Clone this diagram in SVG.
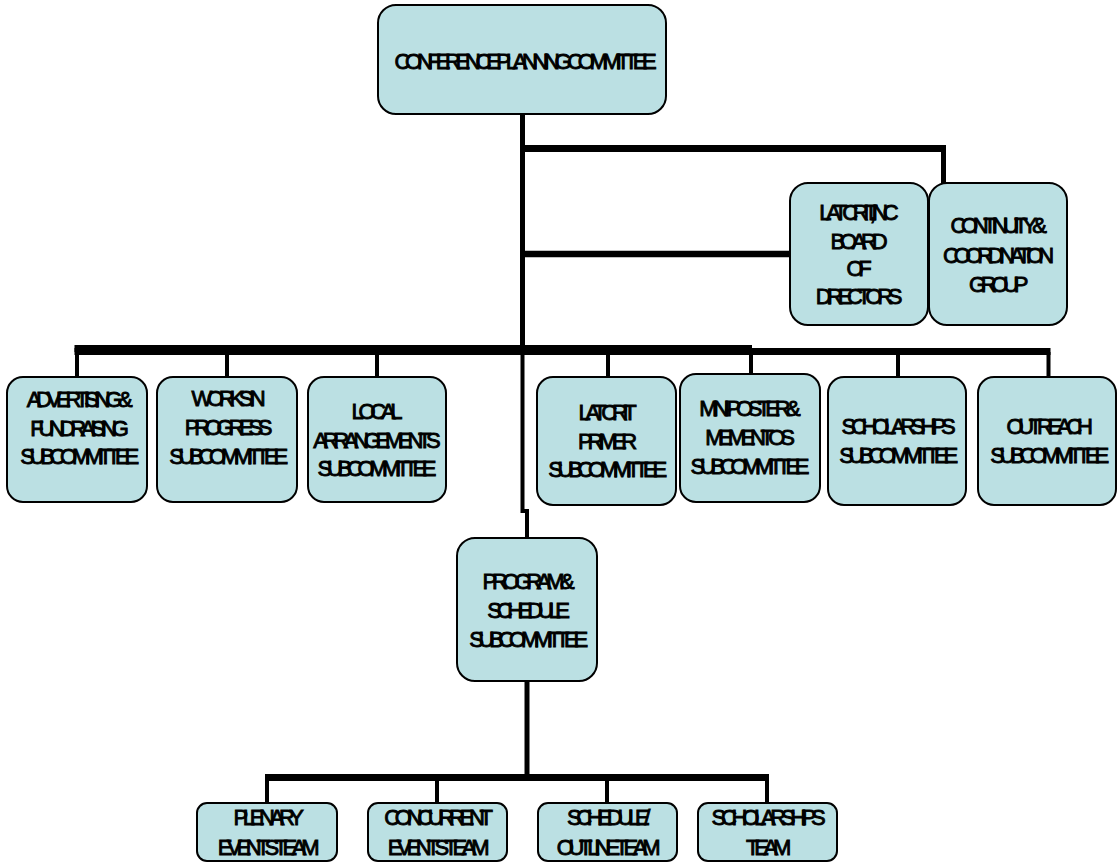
<svg xmlns="http://www.w3.org/2000/svg" width="1119" height="864" viewBox="0 0 1119 864">
<style>
.box{fill:#BBE0E3;stroke:#000;stroke-width:2}
.t{font-family:"Liberation Sans",Arial,sans-serif;font-size:22px;letter-spacing:-5.3px;text-anchor:middle;fill:#000;stroke:#000;stroke-width:0.9}
.c line,.c path{stroke:#000;fill:none;stroke-linecap:butt}
</style>
<rect width="1119" height="864" fill="#fff"/>
<g id="connectors" class="c">
<line x1="522.5" y1="114" x2="522.5" y2="352" stroke-width="5"/>
<line x1="520" y1="148.5" x2="946" y2="148.5" stroke-width="7"/>
<line x1="943.5" y1="145" x2="943.5" y2="183" stroke-width="5"/>
<line x1="520" y1="254" x2="791" y2="254" stroke-width="6.5"/>
<line x1="74.5" y1="351.5" x2="1050.5" y2="351.5" stroke-width="7"/>
<line x1="74.5" y1="348.5" x2="752" y2="348.5" stroke-width="7"/>
<line x1="77" y1="352" x2="77" y2="377" stroke-width="4"/>
<line x1="227" y1="352" x2="227" y2="377" stroke-width="4"/>
<line x1="377" y1="352" x2="377" y2="377" stroke-width="4"/>
<line x1="608" y1="352" x2="608" y2="377" stroke-width="4"/>
<line x1="751" y1="352" x2="751" y2="374" stroke-width="4"/>
<line x1="898" y1="352" x2="898" y2="377" stroke-width="4"/>
<line x1="1048.5" y1="352" x2="1048.5" y2="377" stroke-width="4"/>
<path d="M522.5,352 V511 H527 V538" stroke-width="4"/>
<line x1="527" y1="681" x2="527" y2="778" stroke-width="5"/>
<line x1="265" y1="777.5" x2="769" y2="777.5" stroke-width="7"/>
<line x1="267" y1="777" x2="267" y2="803" stroke-width="4"/>
<line x1="437" y1="777" x2="437" y2="803" stroke-width="4"/>
<line x1="607" y1="777" x2="607" y2="803" stroke-width="4"/>
<line x1="767" y1="777" x2="767" y2="803" stroke-width="4"/>
</g>
<g id="n-cpc"><rect class="box" x="378" y="5" width="288" height="109" rx="18"/><text class="t" x="523" y="69">CONFERENCE PLANNING COMMITTEE</text></g>
<g id="n-board"><rect class="box" x="790" y="183" width="138" height="142" rx="18"/><text class="t" x="856.4" y="219.5">LATCRIT, INC</text><text class="t" x="856.4" y="248.5">BOARD</text><text class="t" x="856.4" y="275.5">OF</text><text class="t" x="856.4" y="303.5">DIRECTORS</text></g>
<g id="n-cont"><rect class="box" x="929" y="183" width="138" height="142" rx="18"/><text class="t" x="996" y="233">CONTINUITY &amp;</text><text class="t" x="996" y="263">COORDINATION</text><text class="t" x="996" y="292">GROUP</text></g>
<g id="n-adv"><rect class="box" x="7" y="377" width="140" height="125" rx="16"/><text class="t" x="77" y="407">ADVERTISING &amp;</text><text class="t" x="77" y="436">FUNDRAISING</text><text class="t" x="77" y="464">SUBCOMMITTEE</text></g>
<g id="n-works"><rect class="box" x="157" y="377" width="140" height="125" rx="16"/><text class="t" x="226" y="406">WORKS IN</text><text class="t" x="226" y="435">PROGRESS</text><text class="t" x="226" y="464">SUBCOMMITTEE</text></g>
<g id="n-local"><rect class="box" x="308" y="377" width="138" height="125" rx="16"/><text class="t" x="374.4" y="419">LOCAL</text><text class="t" x="374.4" y="448">ARRANGEMENTS</text><text class="t" x="374.4" y="476">SUBCOMMITTEE</text></g>
<g id="n-primer"><rect class="box" x="537" y="377" width="139" height="128" rx="16"/><text class="t" x="605" y="420">LATCRIT</text><text class="t" x="605" y="449">PRIMER</text><text class="t" x="605" y="477">SUBCOMMITTEE</text></g>
<g id="n-mini"><rect class="box" x="680" y="374" width="140" height="128" rx="16"/><text class="t" x="747.4" y="416">MINI-POSTER &amp;</text><text class="t" x="747.4" y="445">MEMENTOS</text><text class="t" x="747.4" y="474">SUBCOMMITTEE</text></g>
<g id="n-schol"><rect class="box" x="828" y="377" width="138" height="128" rx="16"/><text class="t" x="896" y="434">SCHOLARSHIPS</text><text class="t" x="896" y="463">SUBCOMMITTEE</text></g>
<g id="n-outreach"><rect class="box" x="978" y="377" width="138" height="128" rx="16"/><text class="t" x="1047" y="434">OUTREACH</text><text class="t" x="1047" y="463">SUBCOMMITTEE</text></g>
<g id="n-program"><rect class="box" x="457" y="538" width="140" height="143" rx="18"/><text class="t" x="526" y="589">PROGRAM &amp;</text><text class="t" x="526" y="618">SCHEDULE</text><text class="t" x="526" y="647">SUBCOMMITTEE</text></g>
<g id="n-plenary"><rect class="box" x="197" y="803" width="140" height="58" rx="10"/><text class="t" x="266" y="825">PLENARY</text><text class="t" x="266" y="855">EVENTS TEAM</text></g>
<g id="n-concurrent"><rect class="box" x="368" y="803" width="139" height="58" rx="10"/><text class="t" x="436" y="825">CONCURRENT</text><text class="t" x="436" y="855">EVENTS TEAM</text></g>
<g id="n-schedule"><rect class="box" x="538" y="803" width="139" height="58" rx="10"/><text class="t" x="606" y="825">SCHEDULE/</text><text class="t" x="606" y="855">OUTLINE TEAM</text></g>
<g id="n-scholteam"><rect class="box" x="698" y="803" width="139" height="58" rx="10"/><text class="t" x="766" y="825">SCHOLARSHIPS</text><text class="t" x="766" y="855">TEAM</text></g>
</svg>
